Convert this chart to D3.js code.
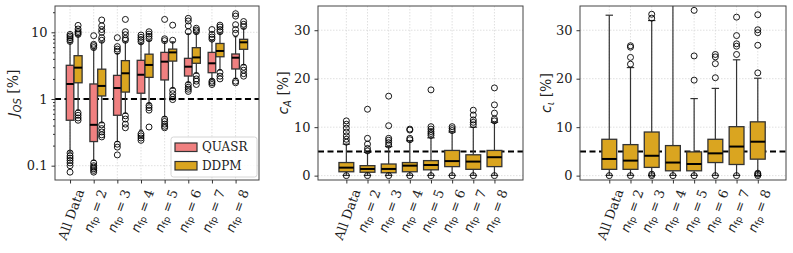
<!DOCTYPE html>
<html>
<head>
<meta charset="utf-8">
<script src="https://cdn.jsdelivr.net/npm/d3@7"></script>
<style>
  body { margin: 0; background: #fff; }
  svg text { font-family: "DejaVu Serif", serif; }
  .grid line { stroke: #d8d8d8; stroke-dasharray: 1.5,1.5; stroke-width: 0.8; }
  .axis path { display: none; }
  .axis line { stroke: #333; }
  .axis text { font-size: 13px; fill: #222; }
</style>
</head>
<body>
<div id="chart"></div>
<script>
// categories
let groups = ["All Data", "2", "3", "4", "5", "6", "7", "8"];

// box stats: [whisker low, q1, median, q3, whisker high]
let jqsQuasr = [
  [0.16, 0.48, 1.68, 3.2, 7.0],
  [0.12, 0.23, 0.41, 1.68, 5.6],
  [0.23, 0.57, 1.46, 2.26, 4.8],
  [0.34, 1.22, 2.31, 3.8, 6.8],
  [0.54, 1.93, 3.63, 5.0, 7.2],
  [1.76, 2.21, 3.05, 4.07, 9.5],
  [1.98, 2.48, 3.43, 5.0, 7.6],
  [2.04, 2.82, 4.16, 4.73, 8.6]
];
let jqsQuasrOut = [
  [0.155, 0.14, 0.13, 0.12, 0.11, 0.10, 0.08, 7.3, 7.8, 8.3, 8.8, 9.3],
  [0.11, 0.10, 0.095, 0.09, 0.085, 0.08, 5.9, 6.3, 6.6, 8.9],
  [0.21, 0.19, 0.145, 5.2, 5.6, 6.1, 8.3],
  [0.3, 0.28, 0.26, 0.24, 7.2, 7.8, 8.4, 9.1],
  [0.5, 0.46, 0.42, 0.39, 0.37, 7.5, 8.0, 15.6],
  [1.65, 1.5, 1.4, 1.3, 10.2, 12.5, 14.8, 16.2],
  [1.85, 1.75, 1.65, 7.9, 8.5, 9.3, 11],
  [1.85, 1.75, 9.7, 11, 13, 17.5, 19]
];
let jqsDdpm = [
  [0.68, 1.75, 2.95, 4.46, 8.8],
  [0.44, 1.11, 1.57, 2.8, 7.2],
  [0.61, 1.27, 2.43, 3.76, 7.2],
  [0.86, 2.11, 3.24, 4.7, 7.6],
  [1.45, 3.7, 5.0, 5.6, 7.2],
  [2.43, 3.43, 4.2, 5.88, 9.7],
  [2.72, 4.3, 5.25, 6.8, 9.7],
  [3.24, 5.56, 7.08, 7.85, 11.5]
];
let jqsDdpmOut = [
  [0.62, 0.57, 0.52, 0.48, 9.3, 9.8, 10.3, 11.2, 12.7],
  [0.41, 0.36, 0.32, 0.29, 0.27, 7.6, 8.3, 10, 11, 12.5, 15.3],
  [0.56, 0.5, 0.42, 0.37, 7.6, 8.1, 9.2, 10.2, 15.6],
  [0.8, 0.74, 0.68, 0.38, 8.0, 8.7, 9.4, 10.2],
  [1.35, 1.2, 1.07, 0.98, 7.6, 12.8],
  [2.25, 2.0, 1.85, 1.65, 10.2, 10.8, 11.5],
  [2.5, 2.2, 2.0, 10.2, 11, 12, 12.8],
  [3.0, 2.7, 2.4, 2.2, 12.2, 13.2, 14.5]
];
let caDdpm = [
  [0.05, 0.8, 1.65, 2.7, 6.5],
  [0.05, 0.7, 1.38, 2.06, 4.8],
  [0.05, 0.6, 1.38, 2.4, 6.0],
  [0.05, 0.8, 2.06, 2.7, 7.2],
  [0.05, 1.2, 2.2, 3.1, 7.8],
  [0.05, 1.86, 3.0, 5.2, 9.0],
  [0.05, 1.3, 2.9, 4.3, 10.0],
  [0.05, 1.86, 3.8, 5.2, 11.0]
];
let caDdpmOut = [
  [0, 6.9, 7.5, 8.2, 9.0, 9.8, 10.6, 11.3],
  [0, 5.1, 5.6, 6.5, 7.7, 13.7],
  [0, 6.3, 6.8, 7.3, 7.7, 10.3, 16.4],
  [0, 7.4, 7.7, 9.4, 9.6],
  [0, 8.3, 8.7, 9.1, 9.6, 10.1, 17.7],
  [0, 9.3, 9.7, 10.1],
  [0, 10.5, 11.0, 11.5, 12.5, 13.5],
  [0, 11.3, 11.7, 12.9, 14.6, 18.1]
];
let ciDdpm = [
  [0.05, 1.3, 3.44, 7.5, 33.1],
  [0.05, 1.3, 3.1, 6.4, 22.3],
  [0.05, 1.7, 4.1, 9.0, 32.0],
  [0.05, 1.0, 2.7, 6.2, 45],
  [0.05, 1.0, 2.4, 4.9, 15.9],
  [0.05, 2.7, 4.6, 7.5, 18.0],
  [0.05, 2.3, 6.0, 10.1, 23.9],
  [0.05, 3.4, 7.0, 11.1, 20.1]
];
let ciDdpmOut = [
  [0],
  [0, 23.0, 24.4, 26.5, 26.8],
  [0, 0.3, 32.5, 33.3],
  [0],
  [0, 19.7, 24.7, 34.1],
  [0, 20.2, 23.1, 24.5, 25.0],
  [0, 25.0, 26.7, 27.2, 28.9, 32.7],
  [0, 0.3, 0.5, 21.2, 26.9, 29.5, 30.1, 33.2]
];

let jqsTicks = [0.1, 1, 10];
let linTicks = [0, 10, 20, 30];

let colQuasr = "#f08080", colDdpm = "#daa520";

let svg = d3.select("#chart").append("svg")
    .attr("width", 793)
    .attr("height", 253);

let plotTop = 6, plotBottom = 180;

function drawPanel(p) {
  let x = d3.scaleLinear().domain(p.xdom).range([p.left, p.right]);
  let y = p.y;
  let g = svg.append("g");
  let clipId = "clip" + p.id;
  svg.append("clipPath").attr("id", clipId)
    .append("rect").attr("x", p.left).attr("y", plotTop)
    .attr("width", p.right - p.left).attr("height", plotBottom - plotTop);

  // grid
  let grid = g.append("g").attr("class", "grid");
  grid.selectAll(".gx").data(groups).enter().append("line")
    .attr("x1", (d, i) => x(i + 1)).attr("x2", (d, i) => x(i + 1))
    .attr("y1", plotTop).attr("y2", plotBottom);
  grid.selectAll(".gy").data(p.ticks).enter().append("line")
    .attr("x1", p.left).attr("x2", p.right)
    .attr("y1", d => y(d)).attr("y2", d => y(d));

  let plot = g.append("g").attr("clip-path", "url(#" + clipId + ")");

  // reference line
  plot.append("line")
    .attr("x1", p.left).attr("x2", p.right)
    .attr("y1", y(p.ref)).attr("y2", y(p.ref))
    .attr("stroke", "#000").attr("stroke-width", 2)
    .attr("stroke-dasharray", "6,3.5");

  p.series.forEach(function(s) {
    let sg = plot.append("g");
    let cx = (i) => x(i + 1 + s.shift);
    let hw = (x(s.width) - x(0)) / 2;
    let b = sg.selectAll("g.box").data(s.stats).enter().append("g");
    // whiskers
    b.append("line").attr("x1", (d, i) => cx(i)).attr("x2", (d, i) => cx(i))
      .attr("y1", d => y(d[3])).attr("y2", d => y(d[4]))
      .attr("stroke", "#333").attr("stroke-width", 1.2);
    b.append("line").attr("x1", (d, i) => cx(i)).attr("x2", (d, i) => cx(i))
      .attr("y1", d => y(d[1])).attr("y2", d => y(d[0]))
      .attr("stroke", "#333").attr("stroke-width", 1.2);
    // caps
    [0, 4].forEach(function(k) {
      b.append("line")
        .attr("x1", (d, i) => cx(i) - hw / 2).attr("x2", (d, i) => cx(i) + hw / 2)
        .attr("y1", d => y(d[k])).attr("y2", d => y(d[k]))
        .attr("stroke", "#333").attr("stroke-width", 1.2);
    });
    // boxes
    b.append("rect")
      .attr("x", (d, i) => cx(i) - hw).attr("width", 2 * hw)
      .attr("y", d => y(d[3])).attr("height", d => y(d[1]) - y(d[3]))
      .attr("fill", s.color).attr("stroke", "#333").attr("stroke-width", 1.3);
    b.append("line")
      .attr("x1", (d, i) => cx(i) - hw).attr("x2", (d, i) => cx(i) + hw)
      .attr("y1", d => y(d[2])).attr("y2", d => y(d[2]))
      .attr("stroke", "#000").attr("stroke-width", 2);
    // outliers
    s.out.forEach(function(arr, i) {
      sg.selectAll(null).data(arr).enter().append("circle")
        .attr("cx", cx(i)).attr("cy", d => y(d)).attr("r", 3)
        .attr("fill", "none").attr("stroke", "#000").attr("stroke-width", 0.9);
    });
  });

  // frame
  g.append("rect").attr("x", p.left).attr("y", plotTop)
    .attr("width", p.right - p.left).attr("height", plotBottom - plotTop)
    .attr("fill", "none").attr("stroke", "#444").attr("stroke-width", 1);

  // y axis
  g.append("g").attr("class", "axis")
    .attr("transform", "translate(" + p.left + ",0)")
    .call(d3.axisLeft(y).tickValues(p.ticks).tickFormat(p.fmt).tickSize(3.5).tickPadding(4));
  if (p.minor) {
    g.append("g").attr("class", "axis")
      .attr("transform", "translate(" + p.left + ",0)")
      .call(d3.axisLeft(y).tickValues(p.minor).tickFormat("").tickSize(2));
  }
  // x ticks
  g.append("g").attr("class", "axis")
    .attr("transform", "translate(0," + plotBottom + ")")
    .call(d3.axisBottom(x).tickValues(d3.range(1, groups.length + 1)).tickFormat("").tickSize(3.5));

  // x labels
  groups.forEach(function(lab, i) {
    let t = g.append("text")
      .attr("text-anchor", "end")
      .attr("dominant-baseline", "middle")
      .style("font-size", "13px").style("fill", "#222");
    if (i === 0) {
      t.text(lab);
    } else {
      t.append("tspan").text("n").style("font-family", "DejaVu Sans").style("font-style", "italic");
      t.append("tspan").text("fp").style("font-family", "DejaVu Sans")
        .style("font-size", "9px").attr("dy", 3);
      t.append("tspan").text(" = " + lab).attr("dy", -3);
    }
    let L = t.node().getComputedTextLength();
    let ex = x(i + 1) + L * 0.171 + 2, ey = 190;
    t.attr("transform", "translate(" + ex + "," + ey + ") rotate(-70)");
  });

  // y label
  let yl = g.append("text")
    .attr("transform", "translate(" + p.ylx + "," + ((plotTop + plotBottom) / 2) + ") rotate(-90)")
    .attr("text-anchor", "middle")
    .style("font-size", "14px").style("fill", "#222");
  yl.append("tspan").text(p.ysym).style("font-family", "DejaVu Sans").style("font-style", "italic");
  yl.append("tspan").text(p.ysub).style("font-family", "DejaVu Sans").style("font-style", "italic")
    .style("font-size", "10px").attr("dy", 3);
  yl.append("tspan").text("  [%]").attr("dy", -3);
}

let yLog = d3.scaleLog().domain([0.061, 24.8]).range([plotBottom, plotTop]);
let minorLog = [];
[0.1, 1, 10].forEach(function(dec) {
  d3.range(2, 10).forEach(function(k) { if (k * dec < 24.8) minorLog.push(k * dec); });
});
let yLin = d3.scaleLinear().domain([-0.9, 35]).range([plotBottom, plotTop]);

drawPanel({
  id: 1, left: 55, right: 259, xdom: [0.364, 8.99], y: yLog,
  ticks: jqsTicks, fmt: d => d === 0.1 ? "0.1" : d3.format("d")(d), minor: minorLog,
  ref: 1, ylx: 18, ysym: "J", ysub: "QS",
  series: [
    {stats: jqsQuasr, out: jqsQuasrOut, color: colQuasr, shift: 0, width: 0.32},
    {stats: jqsDdpm, out: jqsDdpmOut, color: colDdpm, shift: 0.34, width: 0.34}
  ]
});
drawPanel({
  id: 2, left: 318, right: 523, xdom: [-0.34, 9.35], y: yLin,
  ticks: linTicks, fmt: d3.format("d"), ref: 5, ylx: 288, ysym: "c", ysub: "A",
  series: [{stats: caDdpm, out: caDdpmOut, color: colDdpm, shift: 0, width: 0.7}]
});
drawPanel({
  id: 3, left: 580, right: 786, xdom: [-0.38, 9.33], y: yLin,
  ticks: linTicks, fmt: d3.format("d"), ref: 5, ylx: 551, ysym: "c", ysub: "\u03B9",
  series: [{stats: ciDdpm, out: ciDdpmOut, color: colDdpm, shift: 0, width: 0.7}]
});

// legend
let leg = svg.append("g");
leg.append("rect").attr("x", 171).attr("y", 137).attr("width", 86).attr("height", 40)
  .attr("rx", 2.5).attr("fill", "#fff").attr("fill-opacity", 0.85)
  .attr("stroke", "#ccc").attr("stroke-width", 0.8);
[["QUASR", colQuasr], ["DDPM", colDdpm]].forEach(function(d, i) {
  let yy = 143 + i * 18.5;
  leg.append("rect").attr("x", 175).attr("y", yy).attr("width", 22).attr("height", 8.5)
    .attr("fill", d[1]).attr("stroke", "#333").attr("stroke-width", 1.2);
  leg.append("text").attr("x", 202).attr("y", yy + 4.5)
    .attr("dominant-baseline", "middle")
    .style("font-size", "12px").style("fill", "#222").text(d[0]);
});
</script>
</body>
</html>
